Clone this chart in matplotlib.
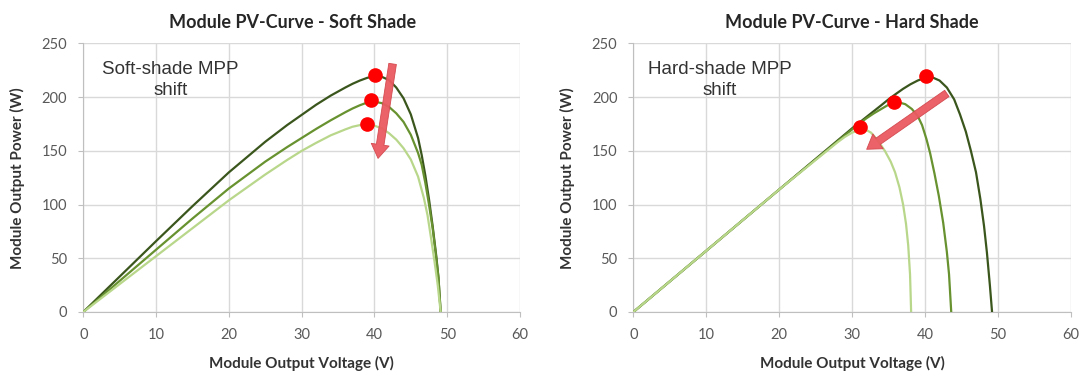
import numpy as np
import matplotlib
matplotlib.use("Agg")
import matplotlib.pyplot as plt

# Soft shade curves (voltage V, power W)
soft_dark_v = [0, 5, 10, 15, 20, 25, 28, 30, 32, 34, 36, 37, 38, 39, 40, 41, 42, 43, 44, 45, 46, 46.5, 47, 47.5, 48, 48.5, 48.8, 49.1]
soft_dark_p = [0, 33, 66, 98.5, 130, 158.5, 174, 183.5, 193, 201.5, 209, 212.5, 215.5, 218, 219.5, 219, 216, 209, 199, 184, 162, 146, 127, 105, 80, 52, 32, 0]
soft_mid_v = [0, 5, 10, 15, 20, 25, 28, 30, 32, 34, 36, 37, 38, 39, 39.8, 41, 42, 43, 44, 45, 46, 46.5, 47, 47.5, 48, 48.5, 48.8, 49.1]
soft_mid_p = [0, 29, 58, 87, 115, 140, 153.5, 162, 170.5, 178.5, 186, 189.5, 192.5, 195, 196, 194.5, 191, 185, 177, 165, 148, 137, 120, 100, 78, 50, 32, 0]
soft_light_v = [0, 5, 10, 15, 20, 25, 28, 30, 32, 34, 36, 37, 38, 39, 40, 41, 42, 43, 44, 45, 46, 46.8, 47.3, 47.8, 48.3, 48.7, 49.1]
soft_light_p = [0, 26, 52, 78, 104, 128, 141.5, 150, 157.5, 164.5, 170, 172.5, 174, 174.5, 173.5, 171, 166.5, 160.5, 152.5, 142, 126, 106, 90, 68, 45, 25, 0]

# Hard shade curves
hard_dark_v = [0, 10, 20, 30, 34, 35, 36, 37, 38, 39, 40, 41, 42, 43, 44, 44.8, 45.6, 46.3, 47, 47.6, 48.1, 48.5, 48.9, 49.2]
hard_dark_p = [0, 57, 114, 171, 192.5, 198, 203, 207.8, 212, 215.5, 218, 218.5, 215.5, 209, 198, 184, 168, 150, 130, 105, 80, 55, 25, 0]
hard_mid_v = [0, 10, 20, 30, 31, 32, 33, 34, 35, 35.8, 36.5, 37.3, 38.2, 39, 39.6, 40.2, 40.7, 41.3, 41.9, 42.5, 43.0, 43.3, 43.6]
hard_mid_p = [0, 57, 114, 170, 175.5, 180.5, 185, 189, 193, 195, 195, 193.5, 189, 182.5, 174, 161, 148, 129, 108, 83, 56, 35, 0]
hard_light_v = [0, 10, 20, 28, 29, 30, 31, 31.8, 32.6, 33.5, 34.5, 35.3, 35.9, 36.5, 37.0, 37.4, 37.7, 37.95, 38.1]
hard_light_p = [0, 57, 114, 158, 163, 167, 169.5, 170, 167, 160, 150, 140, 130, 116, 100, 82, 62, 35, 0]

# MPP markers
soft_mpp_v = [40.1, 39.5, 39.0]
soft_mpp_p = [220.5, 197, 175.5]
hard_mpp_v = [40.2, 35.7, 31.1]
hard_mpp_p = [219.5, 195.5, 172]

# arrows (tail -> head)
soft_arrow = [(42.5, 231), (40.5, 143)]
hard_arrow = [(43.0, 203.5), (32.0, 151.5)]

titles = ["Module PV-Curve - Soft Shade", "Module PV-Curve - Hard Shade"]
notes = ["Soft-shade MPP\nshift", "Hard-shade MPP\nshift"]

dark_c = "#3b561d"
mid_c = "#67922f"
light_c = "#b9d78a"
grid_c = "#d9d9d9"
tick_c = "#595959"

fig = plt.figure(figsize=(10.86, 3.74), dpi=100)
ax1 = fig.add_axes([0.0767, 0.1658, 0.4021, 0.7179])
ax2 = fig.add_axes([0.5832, 0.1658, 0.4028, 0.7179])

curves = [
    [(soft_dark_v, soft_dark_p, dark_c), (soft_mid_v, soft_mid_p, mid_c), (soft_light_v, soft_light_p, light_c)],
    [(hard_dark_v, hard_dark_p, dark_c), (hard_mid_v, hard_mid_p, mid_c), (hard_light_v, hard_light_p, light_c)],
]
mpps = [(soft_mpp_v, soft_mpp_p), (hard_mpp_v, hard_mpp_p)]
arrows = [soft_arrow, hard_arrow]
note_x = [12.0, 11.8]

for i, ax in enumerate([ax1, ax2]):
    for v, p, c in curves[i]:
        ax.plot(v, p, color=c, lw=1.6, solid_capstyle="round", solid_joinstyle="round", zorder=3)
    ax.plot(mpps[i][0], mpps[i][1], "o", color="#ff0000", ms=9.5, mec="#ff0000", zorder=5)
    (x0, y0), (x1, y1) = arrows[i]
    ax.annotate("", xy=(x1, y1), xytext=(x0, y0),
                arrowprops=dict(arrowstyle="simple,head_length=10,head_width=13,tail_width=5.5",
                                mutation_scale=1, fc="#ea5a60", ec="#d2474d", lw=0.6,
                                shrinkA=0, shrinkB=0, alpha=0.95), zorder=6)
    ax.text(note_x[i], 216, notes[i], ha="center", va="center", multialignment="center",
            fontsize=13.5, family="Liberation Sans", color="#333333", linespacing=1.25, zorder=7)

    ax.set_xlim(0, 60)
    ax.set_ylim(0, 250)
    ax.set_xticks(np.arange(0, 61, 10))
    ax.set_yticks(np.arange(0, 251, 50))
    ax.grid(True, color=grid_c, lw=1)
    ax.set_axisbelow(True)
    for s in ["top", "right"]:
        ax.spines[s].set_visible(False)
    for s in ["left", "bottom"]:
        ax.spines[s].set_color("#bfbfbf")
    ax.tick_params(direction="out", length=3.5, color="#bfbfbf", labelcolor=tick_c,
                   labelsize=10.5, pad=8)
    for lab in ax.get_xticklabels() + ax.get_yticklabels():
        lab.set_family("Lato")
    ax.set_xlabel("Module Output Voltage (V)", family="Lato", fontweight="bold",
                  fontsize=11, color="#333333", labelpad=10)
    ax.set_ylabel("Module Output Power (W)", family="Lato", fontweight="bold",
                  fontsize=11, color="#333333", labelpad=12)
    ax.text(0.48 if i == 0 else 0.5, 1.08, titles[i], transform=ax.transAxes, ha="center",
            va="center", family="Lato", fontweight="bold", fontsize=13, color="#262626")

fig.savefig("out.png", dpi=100)
